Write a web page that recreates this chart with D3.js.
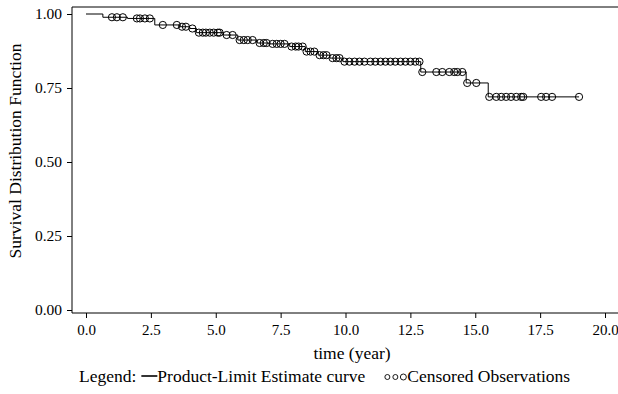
<!DOCTYPE html>
<html>
<head>
<meta charset="utf-8">
<script src="https://cdn.jsdelivr.net/npm/d3@7"></script>
<style>
  body { margin: 0; background: #fff; }
  svg text { font-family: "Liberation Serif", "Times New Roman", serif; fill: #000; }
</style>
</head>
<body>
<svg id="km" width="618" height="394"></svg>
<script>
// event times and the survival estimate right after each drop
const stepTimes = [0, 0.65, 1.6, 2.65, 3.6, 4.0, 4.25, 5.3, 5.85, 6.6, 7.05, 7.85, 8.45, 8.95, 9.4, 9.9, 12.9, 14.65, 15.5];
const stepSurv  = [1.0, 0.989, 0.985, 0.963, 0.957, 0.951, 0.937, 0.929, 0.912, 0.902, 0.899, 0.890, 0.873, 0.861, 0.851, 0.839, 0.804, 0.767, 0.720];
// censored observation times
const censorTimes = [1.0, 1.19, 1.42, 1.96, 2.08, 2.27, 2.46, 2.96, 3.5, 3.7, 3.85, 4.1,
  4.35, 4.5, 4.62, 4.77, 4.92, 5.08, 5.15, 5.42, 5.65, 5.92, 6.08, 6.23, 6.42, 6.69, 6.85, 6.96,
  7.19, 7.35, 7.5, 7.65, 7.92, 8.08, 8.19, 8.35, 8.5, 8.65, 8.8, 9.0, 9.15, 9.27, 9.5, 9.65, 9.77,
  9.96, 10.15, 10.35, 10.54, 10.73, 10.96, 11.15, 11.35, 11.54, 11.73, 11.92, 12.12, 12.31, 12.5, 12.69, 12.85,
  12.96, 13.5, 13.73, 14.0, 14.19, 14.31, 14.5, 14.69, 15.04,
  15.54, 15.81, 16.0, 16.19, 16.38, 16.58, 16.77, 16.85, 17.54, 17.73, 17.96, 19.0];
const lastTime = 19.0;
const xTicks = [0, 2.5, 5, 7.5, 10, 12.5, 15, 17.5, 20];
const yTicks = [0, 0.25, 0.5, 0.75, 1.0];

const svg = d3.select("#km");
const frame = { left: 72, right: 618, top: 7, bottom: 313 };

const x = d3.scaleLinear().domain([0, 20]).range([86, 605]);
const y = d3.scaleLinear().domain([0, 1]).range([310, 14]);

// survival at time t from the step function
function survAt(t) {
  let s = stepSurv[0];
  stepTimes.forEach((st, i) => { if (st <= t) s = stepSurv[i]; });
  return s;
}

// frame lines (left, top, bottom)
svg.append("path")
  .attr("d", `M${frame.right},${frame.top}H${frame.left}V${frame.bottom}H${frame.right}`)
  .attr("fill", "none").attr("stroke", "#000").attr("stroke-width", 1);

const xAxis = svg.append("g")
  .attr("transform", `translate(0,${frame.bottom})`)
  .call(d3.axisBottom(x).tickValues(xTicks).tickFormat(d3.format(".1f")).tickSize(5).tickSizeOuter(0).tickPadding(6));
xAxis.select(".domain").remove();
xAxis.selectAll("text").attr("font-size", 15).attr("font-family", null);

const yAxis = svg.append("g")
  .attr("transform", `translate(${frame.left},0)`)
  .call(d3.axisLeft(y).tickValues(yTicks).tickFormat(d3.format(".2f")).tickSize(5).tickSizeOuter(0).tickPadding(5));
yAxis.select(".domain").remove();
yAxis.selectAll("text").attr("font-size", 15.5).attr("font-family", null);

// Product-Limit step curve
const pts = stepTimes.map((t, i) => [t, stepSurv[i]]);
pts.push([lastTime, stepSurv[stepSurv.length - 1]]);
const line = d3.line()
  .x(d => x(d[0]))
  .y(d => y(d[1]))
  .curve(d3.curveStepAfter);
svg.append("path")
  .datum(pts)
  .attr("d", line)
  .attr("fill", "none")
  .attr("stroke", "#000")
  .attr("stroke-width", 1);

// censored marks
svg.selectAll("circle.cens")
  .data(censorTimes)
  .enter()
  .append("circle")
  .attr("class", "cens")
  .attr("cx", d => x(d))
  .attr("cy", d => y(survAt(d)))
  .attr("r", 3.6)
  .attr("fill", "none")
  .attr("stroke", "#000")
  .attr("stroke-width", 1);

// axis titles
svg.append("text")
  .attr("transform", "translate(21,151) rotate(-90)")
  .attr("text-anchor", "middle")
  .attr("font-size", 17.5)
  .text("Survival Distribution Function");

svg.append("text")
  .attr("x", 352).attr("y", 359)
  .attr("text-anchor", "middle")
  .attr("font-size", 17.5)
  .text("time (year)");

// legend, laid out left to right
const legY = 382;
let cx = 79;
const t1 = svg.append("text").attr("x", cx).attr("y", legY).attr("font-size", 17.5).text("Legend:");
cx += t1.node().getComputedTextLength() + 5;
svg.append("line")
  .attr("x1", cx).attr("x2", cx + 16).attr("y1", legY - 6).attr("y2", legY - 6)
  .attr("stroke", "#000").attr("stroke-width", 1.6);
cx += 16;
const t2 = svg.append("text").attr("x", cx).attr("y", legY).attr("font-size", 17.5).text("Product-Limit Estimate curve");
cx += t2.node().getComputedTextLength() + 22;
const legCircles = [0, 8, 16];
svg.selectAll("circle.leg")
  .data(legCircles)
  .enter()
  .append("circle")
  .attr("class", "leg")
  .attr("cx", d => cx + d).attr("cy", legY - 5)
  .attr("r", (d, i) => i === 2 ? 3 : 2.5)
  .attr("fill", "none").attr("stroke", "#000").attr("stroke-width", 0.9);
svg.append("text").attr("x", cx + 20).attr("y", legY).attr("font-size", 17.5).text("Censored Observations");
</script>
</body>
</html>
